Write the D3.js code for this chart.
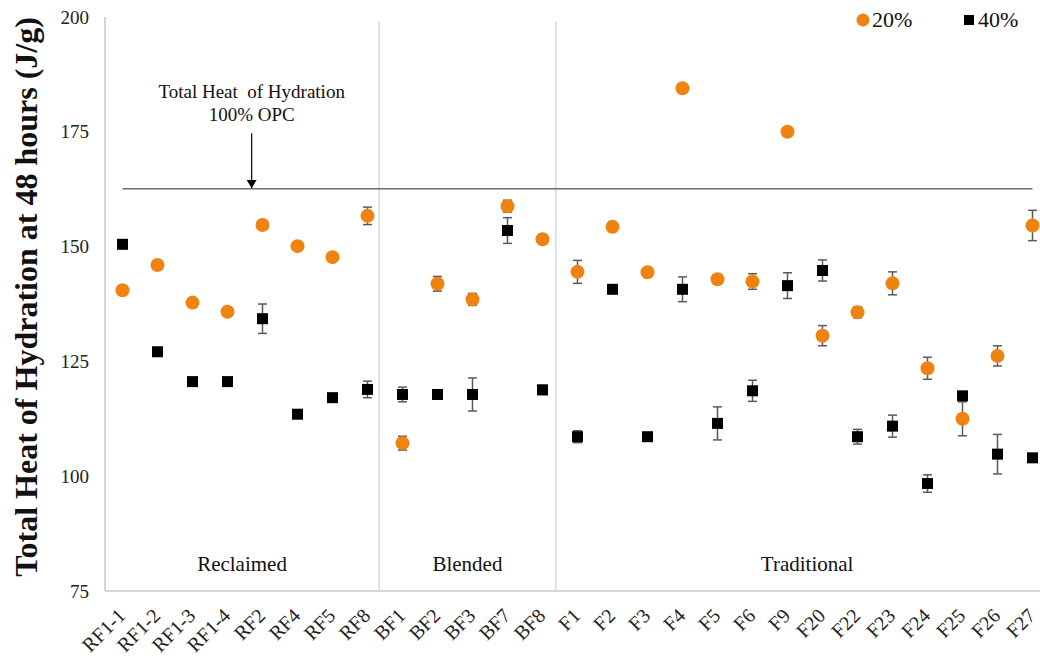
<!DOCTYPE html>
<html>
<head>
<meta charset="utf-8">
<script src="https://cdn.jsdelivr.net/npm/d3@7"></script>
<style>
  html, body { margin: 0; padding: 0; background: #fff; }
  svg { display: block; font-family: "Liberation Serif", "Times New Roman", serif; }
</style>
</head>
<body>
<svg id="chart" width="1040" height="660"></svg>
<script>
// Fly ash samples, in plotting order
const categories = ["RF1-1","RF1-2","RF1-3","RF1-4","RF2","RF4","RF5","RF8",
  "BF1","BF2","BF3","BF7","BF8",
  "F1","F2","F3","F4","F5","F6","F9","F20","F22","F23","F24","F25","F26","F27"];

// Total heat of hydration at 48 h (J/g), 20% replacement, with std. deviation
const heat20 = [140.5,146.0,137.8,135.8,154.7,150.1,147.7,156.7,
  107.2,141.9,138.5,158.8,151.6,
  144.5,154.3,144.4,184.5,142.9,142.4,175.0,130.6,135.7,142.0,123.5,112.5,126.2,154.6];
const err20 = [0,0,0.8,0,0,0.9,0,1.9,
  1.5,1.6,1.3,1.3,0,
  2.5,1.0,0.7,0,0,1.7,0,2.2,1.2,2.5,2.4,3.7,2.2,3.3];

// 40% replacement
const heat40 = [150.5,127.1,120.6,120.6,134.3,113.5,117.1,118.9,
  117.8,117.8,117.8,153.5,118.8,
  108.6,140.7,108.6,140.7,111.5,118.6,141.5,144.8,108.6,110.9,98.4,117.5,104.8,104.0];
const err40 = [0,0,0.8,0.8,3.2,0,0,1.8,
  1.6,0.9,3.6,2.8,1.0,
  1.3,0,0,2.7,3.6,2.3,2.8,2.3,1.6,2.4,1.9,0,4.3,0];

// Source groups: start/end in category-index units
const groups = ["Reclaimed","Blended","Traditional"];
const groupBounds = [[0,7.83],[7.83,12.88],[12.88,27.24]];
const separators = [7.83, 12.88];

// Reference: total heat of hydration of 100% OPC
const opcValue = 162.6;
const opcLabel = ["Total Heat  of Hydration", "100% OPC"];
const opcArrowAt = 4.19;     // category-index position of the arrow
const opcArrowTop = 174.7;

const yTicks = [75,100,125,150,175,200];
const seriesNames = ["20%","40%"];
const orange = "#F0830F";

const svg = d3.select("#chart");
const plotLeft = 105, plotRight = 1050, plotTop = 17, plotBottom = 591;

const x = d3.scaleBand().domain(categories).range([plotLeft, plotRight]);
const cx = d => x(d) + x.bandwidth() / 2;
const xi = d3.scaleLinear().domain([0, categories.length]).range([plotLeft, plotRight]);
const y = d3.scaleLinear().domain([75, 200]).range([plotBottom, plotTop]);

// Axes frame
svg.append("line").attr("x1", plotLeft).attr("x2", plotLeft).attr("y1", plotTop).attr("y2", plotBottom)
  .attr("stroke", "#c8c8c8").attr("stroke-width", 1.5);
svg.append("line").attr("x1", plotLeft).attr("x2", 1040).attr("y1", plotBottom).attr("y2", plotBottom)
  .attr("stroke", "#c8c8c8").attr("stroke-width", 1.5);

// Y axis ticks
const yAxis = svg.append("g").attr("transform", `translate(${plotLeft},0)`)
  .call(d3.axisLeft(y).tickValues(yTicks).tickSize(0).tickPadding(16));
yAxis.select(".domain").remove();
yAxis.selectAll("text").attr("font-family", "Liberation Serif").attr("font-size", 19).attr("fill", "#222");

// X axis labels (rotated)
const xAxis = svg.append("g").attr("transform", `translate(0,${plotBottom})`)
  .call(d3.axisBottom(x).tickSize(0).tickPadding(0));
xAxis.select(".domain").remove();
xAxis.selectAll("text")
  .attr("font-family", "Liberation Serif").attr("font-size", 20).attr("fill", "#222")
  .attr("text-anchor", "end")
  .attr("dy", 0).attr("y", 0)
  .attr("transform", "translate(4,26) rotate(-45)");

// Y axis title
svg.append("text")
  .attr("transform", `translate(37,297) rotate(-90)`)
  .attr("text-anchor", "middle")
  .attr("font-weight", "bold").attr("font-size", 32).attr("fill", "#111")
  .text("Total Heat of Hydration at 48 hours (J/g)");

// Group separators
svg.selectAll("line.sep").data(separators).join("line").attr("class", "sep")
  .attr("x1", d => xi(d)).attr("x2", d => xi(d))
  .attr("y1", y(199)).attr("y2", plotBottom)
  .attr("stroke", "#d0d0d0").attr("stroke-width", 1.2);

// Group labels
svg.selectAll("text.grp").data(groups).join("text").attr("class", "grp")
  .attr("x", (d, i) => xi((groupBounds[i][0] + groupBounds[i][1]) / 2))
  .attr("y", 571)
  .attr("text-anchor", "middle").attr("font-size", 21).attr("fill", "#111")
  .text(d => d);

// OPC reference line
svg.append("line")
  .attr("x1", cx(categories[0])).attr("x2", cx(categories[categories.length - 1]))
  .attr("y1", y(opcValue)).attr("y2", y(opcValue))
  .attr("stroke", "#6e6e6e").attr("stroke-width", 1.5);

// Annotation arrow + text
const ax = xi(opcArrowAt);
svg.append("defs").append("marker")
  .attr("id", "arrowhead").attr("viewBox", "0 0 10 12").attr("refX", 10).attr("refY", 6)
  .attr("markerWidth", 12).attr("markerHeight", 10).attr("markerUnits", "userSpaceOnUse")
  .attr("orient", "auto")
  .append("path").attr("d", "M0,0 L10,6 L0,12 Z").attr("fill", "#000");
svg.append("line")
  .attr("x1", ax).attr("x2", ax).attr("y1", y(opcArrowTop)).attr("y2", y(opcValue) - 0.5)
  .attr("stroke", "#000").attr("stroke-width", 1.2).attr("marker-end", "url(#arrowhead)");
svg.selectAll("text.opc").data(opcLabel).join("text").attr("class", "opc")
  .attr("x", ax).attr("y", (d, i) => y(opcArrowTop) - 35 + i * 23)
  .attr("text-anchor", "middle").attr("font-size", 19).attr("fill", "#111")
  .style("white-space", "pre").attr("xml:space", "preserve")
  .text(d => d);

// Error bars
function errorBars(cls, vals, errs) {
  const data = categories.map((c, i) => ({ c, v: vals[i], e: errs[i] })).filter(d => d.e > 0);
  const g = svg.append("g").attr("class", cls).attr("stroke", "#5a5a5a").attr("stroke-width", 1.5);
  g.selectAll("line.v").data(data).join("line").attr("class", "v")
    .attr("x1", d => cx(d.c)).attr("x2", d => cx(d.c))
    .attr("y1", d => y(d.v - d.e)).attr("y2", d => y(d.v + d.e));
  ["-", "+"].forEach(s => {
    g.selectAll("line.c" + (s === "-" ? "l" : "h")).data(data).join("line")
      .attr("class", "c" + (s === "-" ? "l" : "h"))
      .attr("x1", d => cx(d.c) - 4.5).attr("x2", d => cx(d.c) + 4.5)
      .attr("y1", d => y(s === "-" ? d.v - d.e : d.v + d.e))
      .attr("y2", d => y(s === "-" ? d.v - d.e : d.v + d.e));
  });
}
errorBars("err40", heat40, err40);
errorBars("err20", heat20, err20);

// 40% markers (squares)
svg.append("g").selectAll("rect").data(categories).join("rect")
  .attr("x", (d) => cx(d) - 5.5).attr("y", (d, i) => y(heat40[i]) - 5.5)
  .attr("width", 11).attr("height", 11).attr("fill", "#000");

// 20% markers (circles)
svg.append("g").selectAll("circle").data(categories).join("circle")
  .attr("cx", d => cx(d)).attr("cy", (d, i) => y(heat20[i]))
  .attr("r", 7).attr("fill", orange);

// Legend
const legend = svg.append("g");
legend.append("circle").attr("cx", 863).attr("cy", 20).attr("r", 6.5).attr("fill", orange);
legend.append("text").attr("x", 872).attr("y", 27).attr("font-size", 22).attr("fill", "#111").text(seriesNames[0]);
legend.append("rect").attr("x", 964).attr("y", 15).attr("width", 10).attr("height", 10).attr("fill", "#000");
legend.append("text").attr("x", 978).attr("y", 27).attr("font-size", 22).attr("fill", "#111").text(seriesNames[1]);
</script>
</body>
</html>
